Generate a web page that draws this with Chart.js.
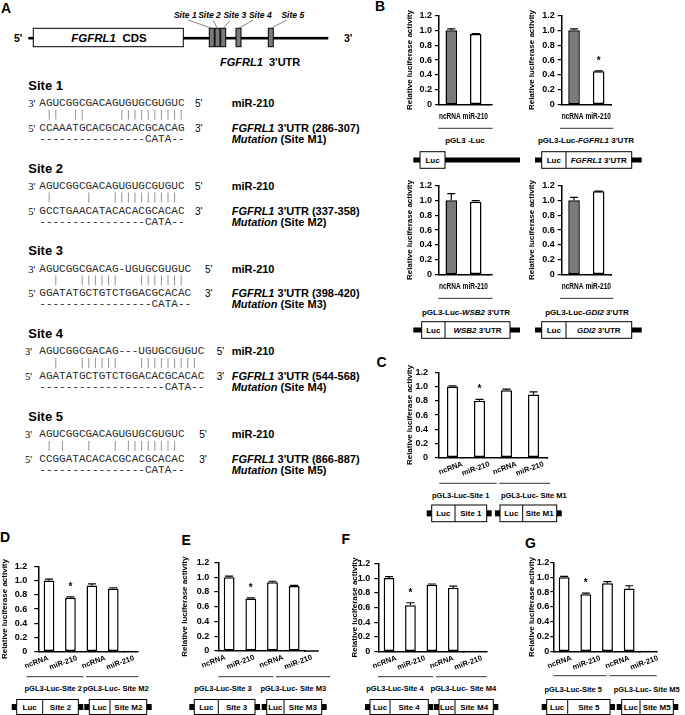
<!DOCTYPE html>
<html>
<head>
<meta charset="utf-8">
<script src="https://cdn.jsdelivr.net/npm/chart.js@4.4.0/dist/chart.umd.min.js"></script>
<style>
  html, body { margin: 0; padding: 0; background: #fff; }
  #fig { position: relative; width: 685px; height: 715px; overflow: hidden; }
  #fig svg { position: absolute; left: 0; top: 0; }
  #fig canvas { position: absolute; }
</style>
</head>
<body>
<div id="fig"><svg id="art" width="685" height="715"></svg></div>
<script>
// ---- values ----
const groupsB = ['ncRNA', 'miR-210'];
const groupsSite = ['ncRNA', 'miR-210', 'ncRNA', 'miR-210'];
const yTickLabels = ['0', '0.2', '0.4', '0.6', '0.8', '1.0', '1.2'];

const lucVals = [1.00, 0.95];   const lucErr = [0.02, 0.004];
const fgfVals = [1.00, 0.45];   const fgfErr = [0.02, 0.004];
const wsbVals = [1.00, 0.98];   const wsbErr = [0.09, 0.015];
const gdiVals = [1.00, 1.12];   const gdiErr = [0.04, 0.004];
const sigB = [false, true];

const site1Vals = [1.00, 0.80, 0.95, 0.89];  const site1Err = [0.01, 0.02, 0.015, 0.035];
const site2Vals = [1.00, 0.76, 0.93, 0.89];  const site2Err = [0.02, 0.01, 0.025, 0.01];
const site3Vals = [1.00, 0.71, 0.93, 0.88];  const site3Err = [0.015, 0.01, 0.015, 0.01];
const site4Vals = [1.00, 0.63, 0.91, 0.87];  const site4Err = [0.02, 0.035, 0.01, 0.02];
const site5Vals = [1.00, 0.77, 0.92, 0.85];  const site5Err = [0.01, 0.015, 0.02, 0.035];
const sigSite = [false, true, false, false];

// panel A sequences
const siteNames = ['Site 1', 'Site 2', 'Site 3', 'Site 4', 'Site 5'];
const mirSeqs = ['AGUCGGCGACAGUGUGCGUGUC', 'AGUCGGCGACAGUGUGCGUGUC', 'AGUCGGCGACAG-UGUGCGUGUC',
                 'AGUCGGCGACAG---UGUGCGUGUC', 'AGUCGGCGACAGUGUGCGUGUC'];
const pairMarks = [' ||  ||     ||||||||||', ' |     |   |||||||||| ', '  |   ||||||   ||||||| ',
                   '  |   ||||||   ||||||||| ', ' | |   |   | |||||||| '];
const utrSeqs = ['CCAAATGCACGCACACGCACAG', 'GCCTGAACATACACACGCACAC', 'GGATATGCTGTCTGGACGCACAC',
                 'AGATATGCTGTCTGGACACGCACAC', 'CCGGATACACACGCACGCACAC'];
const mutSeqs = ['----------------CATA--', '----------------CATA--', '-----------------CATA--',
                 '-------------------CATA--', '----------------CATA--'];
const utrRanges = ['286-307', '337-358', '398-420', '544-568', '866-887'];

const SANS = '"Liberation Sans", Arial, Helvetica, sans-serif';
const MONO = '"Liberation Mono", "Courier New", monospace';
const SERIF = '"Liberation Serif", "Times New Roman", serif';
const gray = '#7a7a7a';

// ---- svg helpers for the drawings and text around the charts ----
const art = document.getElementById('art');
function add(tag, attrs, parent) {
  const e = document.createElementNS('http://www.w3.org/2000/svg', tag);
  for (const k in attrs) e.setAttribute(k, attrs[k]);
  (parent || art).appendChild(e);
  return e;
}
function text(x, y, parts, o) {
  o = o || {};
  const t = add('text', {
    x: x, y: y, 'font-family': o.family || SANS, 'font-size': o.size || 8,
    'font-weight': o.weight || 'bold', 'text-anchor': o.anchor || 'start',
    'dominant-baseline': 'central', fill: o.fill || '#000'
  });
  t.style.whiteSpace = 'pre';
  (typeof parts === 'string' ? [[parts]] : parts).forEach(p => {
    const s = add('tspan', {}, t);
    if (p[1]) s.setAttribute('font-style', 'italic');
    s.textContent = p[0];
  });
  return t;
}
// one glyph per fixed cell, so the pairing marks line up
const cw = 6.6;
function seqText(x, y, str) {
  const xs = str.split('').map((c, k) => (x + cw * k).toFixed(2)).join(' ');
  const t = add('text', {x: xs, y: y, 'font-family': MONO, 'font-size': 11, 'dominant-baseline': 'central', fill: '#2a2a2a'});
  t.textContent = str;
}
function line(x1, y1, x2, y2, color, w) {
  add('line', {x1: x1, y1: y1, x2: x2, y2: y2, stroke: color || '#000', 'stroke-width': w || 1});
}
function box(x, y, w, h, fill) {
  add('rect', {x: x, y: y, width: w, height: h, fill: fill || '#fff', stroke: '#000', 'stroke-width': 1});
}

// ---------- panel A ----------
text(1, 8, 'A', {size: 14});
text(14, 38.3, "5'", {size: 10.5});
text(344, 38.3, "3'", {size: 10.5});
add('rect', {x: 28.3, y: 36.9, width: 300, height: 2.6, fill: '#000'});
box(33.3, 28.3, 150, 18.4);
text(109, 38, [['FGFRL1', true], ['  CDS']], {size: 11.5, anchor: 'middle'});
[209.3, 215, 220.7, 236, 268.3].forEach(x => box(x, 28.3, 5, 18.4, gray));
[185.3, 209.5, 234.8, 260.3, 292.8].forEach((x, i) =>
  text(x, 15, [['Site ' + (i + 1), true]], {size: 8.5, anchor: 'middle'}));
[[188.3, 20, 211.7, 28.3], [213.3, 20.7, 217.3, 28.3], [230, 20.7, 223.3, 28.3],
 [253.3, 20, 238.5, 28.3], [286.7, 20, 270.8, 28.3]].forEach(l => line(l[0], l[1], l[2], l[3], '#666', 0.8));
text(220, 61.7, [['FGFRL1', true], ["  3'UTR"]], {size: 11});

const leadX = [28.3, 28.3, 28.3, 25, 25];
const tailX = [195, 195, 205, 216.7, 199.3];
siteNames.forEach((name, i) => {
  const h = 84.7 + 82.8 * i;
  text(28.3, h, name, {size: 13});
  text(leadX[i], h + 18.3, "3'", {family: SERIF, weight: 'normal', size: 10.5});
  seqText(39.3, h + 18.3, mirSeqs[i]);
  text(tailX[i], h + 18.3, "5'", {weight: 'normal', size: 10});
  pairMarks[i].split('').forEach((c, k) => {
    if (c === '|') line(39.3 + cw * (k + 0.5), h + 25, 39.3 + cw * (k + 0.5), h + 35, '#888', 0.9);
  });
  text(leadX[i], h + 43, "5'", {family: SERIF, weight: 'normal', size: 10.5});
  seqText(39.3, h + 43, utrSeqs[i]);
  text(tailX[i], h + 43, "3'", {weight: 'normal', size: 10});
  seqText(39.3, h + 54, mutSeqs[i]);
  text(231.7, h + 18.3, 'miR-210', {size: 11});
  text(231.7, h + 43, [['FGFRL1', true], [" 3'UTR (" + utrRanges[i] + ')']], {size: 11});
  text(231.7, h + 54, [['Mutation', true], [' (Site M' + (i + 1) + ')']], {size: 11});
});

// ---------- panel letters ----------
text(375, 6.2, 'B', {size: 14});
text(376.5, 361.7, 'C', {size: 14});
text(0, 537, 'D', {size: 14});
text(181.5, 540, 'E', {size: 14});
text(341.5, 539, 'F', {size: 14});
text(525, 543, 'G', {size: 14});

// ---------- group brackets and constructs ----------
function group(x1, x2, y, label, lx, ly, size) {
  line(x1, y, x2, y, '#333', 1);
  text(lx, ly, label, {size: size, anchor: 'middle'});
}
group(438.3, 492.7, 128.3, 'pGL3 -Luc', 465, 140, 8);
group(560, 613.3, 128.3, [['pGL3-Luc-'], ['FGFRL1', true], [" 3'UTR"]], 586, 140, 8);
group(438.3, 492.7, 298.3, [['pGL3-Luc-'], ['WSB2', true], [" 3'UTR"]], 466, 311.7, 8);
group(560, 613.3, 298.3, [['pGL3-Luc-'], ['GDI2', true], [" 3'UTR"]], 587, 311.7, 8);

// B constructs: thick backbone with boxes on it
function backbone(x1, x2, yc) { add('rect', {x: x1, y: yc - 2.5, width: x2 - x1, height: 5, fill: '#000'}); }
backbone(413.3, 520, 160); box(420, 151.7, 25, 16.6); text(432.5, 160, 'Luc', {anchor: 'middle'});
backbone(535, 641.7, 160); box(541.7, 151.7, 90, 16.6); line(566, 151.7, 566, 168.3);
text(553.8, 160, 'Luc', {anchor: 'middle'});
text(598.8, 160, [['FGFRL1', true], [" 3'UTR"]], {anchor: 'middle'});
backbone(413.3, 520, 330); box(421.7, 321.7, 88.3, 16.6); line(445, 321.7, 445, 338.3);
text(433.3, 330, 'Luc', {anchor: 'middle'});
text(477.5, 330, [['WSB2', true], [" 3'UTR"]], {anchor: 'middle'});
backbone(535, 641.7, 330); box(541.7, 321.7, 90, 16.6); line(566, 321.7, 566, 338.3);
text(553.8, 330, 'Luc', {anchor: 'middle'});
text(598.8, 330, [['GDI2', true], [" 3'UTR"]], {anchor: 'middle'});

// C-G constructs: box with small black stubs at both ends
function construct(x1, xd, x2, yTop, h, insert) {
  const yc = yTop + h / 2;
  add('rect', {x: x1 - 5, y: yc - 3, width: 5, height: 6, fill: '#000'});
  add('rect', {x: x2, y: yc - 3, width: 5, height: 6, fill: '#000'});
  box(x1, yTop, x2 - x1, h);
  line(xd, yTop, xd, yTop + h);
  text((x1 + xd) / 2, yc, 'Luc', {anchor: 'middle'});
  text((xd + x2) / 2, yc, insert, {anchor: 'middle'});
}
group(439.3, 496.7, 483.3, 'pGL3-Luc-Site 1', 460.8, 495, 7.5);
group(499.3, 550, 483.3, 'pGL3-Luc- Site M1', 533.8, 495, 7.5);
construct(431.7, 455, 486.7, 505, 16.7, 'Site 1');
construct(500, 522.7, 556.7, 505, 16.7, 'Site M1');

group(26.7, 83.3, 676.7, 'pGL3-Luc-Site 2', 53.3, 688.3, 7.5);
group(86, 138.3, 676.7, 'pGL3-Luc- Site M2', 115.8, 688.3, 7.5);
construct(16.7, 42.7, 78.3, 699.5, 15, 'Site 2');
construct(89.3, 110, 146.7, 699.5, 15, 'Site M2');

group(218.3, 273.3, 676.7, 'pGL3-Luc-Site 3', 223, 688.3, 7.5);
group(276, 330, 676.7, 'pGL3-Luc- Site M3', 293.3, 688.3, 7.5);
construct(194.3, 218.3, 255, 699.5, 15, 'Site 3');
construct(266.7, 284, 321.7, 699.5, 15, 'Site M3');

group(378, 433, 676.7, 'pGL3-Luc-Site 4', 395, 688.3, 7.5);
group(436, 486.7, 676.7, 'pGL3-Luc- Site M4', 463.3, 688.3, 7.5);
construct(370, 390, 428.3, 699.5, 15, 'Site 4');
construct(439, 455, 493.3, 699.5, 15, 'Site M4');

group(553.3, 606.7, 675.7, 'pGL3-Luc-Site 5', 573.3, 689, 7.5);
group(609.3, 656.7, 675.7, 'pGL3-Luc- Site M5', 646.7, 689, 7.5);
construct(546.7, 567.7, 610, 699.5, 15, 'Site 5');
construct(621.7, 640, 673.3, 699.5, 15, 'Site M5');

// ---------- bar charts ----------
const errorBars = {
  id: 'errorBars',
  afterDatasetsDraw(chart, args, o) {
    const ctx = chart.ctx, y = chart.scales.y, area = chart.chartArea;
    const vals = chart.data.datasets[0].data;
    ctx.save();
    ctx.strokeStyle = '#000';
    ctx.fillStyle = '#000';
    ctx.lineWidth = 1.2;
    chart.getDatasetMeta(0).data.forEach((bar, i) => {
      const top = y.getPixelForValue(vals[i] + o.err[i]);
      ctx.beginPath();
      ctx.moveTo(bar.x, bar.y);
      ctx.lineTo(bar.x, top);
      ctx.moveTo(bar.x - 4, top);
      ctx.lineTo(bar.x + 4, top);
      ctx.stroke();
      if (o.sig[i]) {
        ctx.font = 'bold 10px ' + SANS;
        ctx.textAlign = 'center';
        ctx.textBaseline = 'alphabetic';
        ctx.fillText('*', bar.x, top - 7);
      }
    });
    // the x axis runs a little past the last bar in the original
    ctx.lineWidth = 1.5;
    ctx.beginPath();
    ctx.moveTo(area.right - 1, area.bottom);
    ctx.lineTo(area.right + o.ext, area.bottom);
    ctx.stroke();
    ctx.restore();
  }
};

const fig = document.getElementById('fig');
function makeChart(c) {
  const left = Math.round(c.titleX - 4.8);
  const top = Math.floor(c.y12 - 8);
  const padTop = c.y12 - top;
  const plotH = c.y0 - c.y12;
  const yW = c.axisX - left;
  const areaW = c.catW * c.labels.length;
  const padRight = 30;
  const width = Math.ceil(yW + areaW + padRight);
  const height = Math.ceil(padTop + plotH + c.xH);
  const padBottom = height - padTop - plotH - c.xH;

  const cv = document.createElement('canvas');
  cv.width = width; cv.height = height;
  cv.style.left = left + 'px'; cv.style.top = top + 'px';
  cv.style.width = width + 'px'; cv.style.height = height + 'px';
  fig.appendChild(cv);

  const scales = {
    x: {
      type: 'category', offset: true,
      grid: {display: false, drawTicks: false},
      border: {display: true, color: '#000', width: 1.5},
      ticks: {display: false},
      title: c.rotated ? {display: false} : {
        display: true, text: c.labels.join(' '), color: '#000',
        font: {family: SANS, size: 8.5, weight: 'bold'}, padding: {top: 0, bottom: 0}
      },
      afterFit: s => { s.height = c.rotated ? 0 : c.xH; }
    },
    y: {
      min: 0, max: 1.2,
      grid: {display: true, drawOnChartArea: false, drawTicks: true, tickLength: c.tickLen, color: '#000', lineWidth: 1.2},
      border: {display: true, color: '#000', width: 1.5},
      ticks: {
        stepSize: 0.2, padding: c.tickPad, color: '#000',
        font: {family: SANS, size: 9, weight: 'bold'},
        callback: (v, i) => yTickLabels[i]
      },
      title: {
        display: true, text: 'Relative luciferase activity', color: '#000',
        font: {family: SANS, size: 8, weight: 'bold'}, padding: {top: 0, bottom: 0}
      },
      afterFit: s => { s.width = yW; }
    }
  };
  if (c.rotated) {
    scales.x2 = {
      type: 'category', labels: c.labels, position: 'bottom', weight: 1, offset: c.x2Offset,
      grid: {display: false, drawTicks: false},
      border: {display: false},
      ticks: {
        autoSkip: false, minRotation: 20, maxRotation: 20, padding: 2, labelOffset: c.labelOffset,
        color: '#000', font: {family: SANS, size: 7.5, weight: 'bold'}
      },
      afterFit: s => { s.height = c.xH; }
    };
  }

  new Chart(cv, {
    type: 'bar',
    data: {
      labels: c.labels,
      datasets: [{
        data: c.vals,
        backgroundColor: c.colors,
        borderColor: '#000',
        borderWidth: 1.5,
        borderSkipped: false,
        barPercentage: c.bar,
        categoryPercentage: 1
      }]
    },
    options: {
      responsive: false,
      animation: false,
      devicePixelRatio: 1,
      layout: {padding: {top: padTop, right: padRight, bottom: padBottom, left: 0}},
      scales: scales,
      plugins: {
        legend: {display: false},
        tooltip: {enabled: false},
        errorBars: {err: c.err, sig: c.sig, ext: c.axisEnd - (c.axisX + areaW)}
      }
    },
    plugins: [errorBars]
  });
}

const bColors = [gray, '#fff'];
const sColors = ['#fff', '#fff', '#fff', '#fff'];
const bBase = {labels: groupsB, colors: bColors, catW: 24.2, bar: 0.47, tickLen: 4, tickPad: 3};
makeChart(Object.assign({}, bBase, {vals: lucVals, err: lucErr, sig: [false, false],
  titleX: 410, axisX: 439, y12: 15.3, y0: 104.7, axisEnd: 492, xH: 17.1}));
makeChart(Object.assign({}, bBase, {vals: fgfVals, err: fgfErr, sig: sigB,
  titleX: 531.7, axisX: 561.7, y12: 15.3, y0: 104.7, axisEnd: 611, xH: 17.1}));
makeChart(Object.assign({}, bBase, {vals: wsbVals, err: wsbErr, sig: [false, false],
  titleX: 410, axisX: 439, y12: 185.3, y0: 274.7, axisEnd: 492, xH: 17.4}));
makeChart(Object.assign({}, bBase, {vals: gdiVals, err: gdiErr, sig: [false, false],
  titleX: 531.7, axisX: 561.7, y12: 185.3, y0: 274.7, axisEnd: 611, xH: 17.4}));

const sBase = {labels: groupsSite, colors: sColors, sig: sigSite, rotated: true, xH: 28, tickLen: 4};
makeChart(Object.assign({}, sBase, {vals: site1Vals, err: site1Err, titleX: 410, axisX: 439,
  y12: 368.3, y0: 457.7, catW: 27, bar: 0.41, axisEnd: 548, tickPad: 7, x2Offset: true, labelOffset: 10}));
makeChart(Object.assign({}, sBase, {vals: site2Vals, err: site2Err, titleX: 5, axisX: 38.3,
  y12: 562.3, y0: 651.7, catW: 21.3, bar: 0.5, axisEnd: 138, tickPad: 7, x2Offset: false, labelOffset: 10}));
makeChart(Object.assign({}, sBase, {vals: site3Vals, err: site3Err, titleX: 185, axisX: 218.3,
  y12: 560.5, y0: 651, catW: 21.5, bar: 0.5, axisEnd: 318, tickPad: 5, x2Offset: false, labelOffset: 7}));
makeChart(Object.assign({}, sBase, {vals: site4Vals, err: site4Err, titleX: 355, axisX: 378.3,
  y12: 562, y0: 651.7, catW: 21.3, bar: 0.5, axisEnd: 487, tickPad: 4, x2Offset: false, labelOffset: 18}));
makeChart(Object.assign({}, sBase, {vals: site5Vals, err: site5Err, titleX: 532, axisX: 553.3,
  y12: 562.3, y0: 651.7, catW: 21.5, bar: 0.5, axisEnd: 657, tickPad: 1, tickLen: 3, x2Offset: false, labelOffset: 18}));
</script>
</body>
</html>
